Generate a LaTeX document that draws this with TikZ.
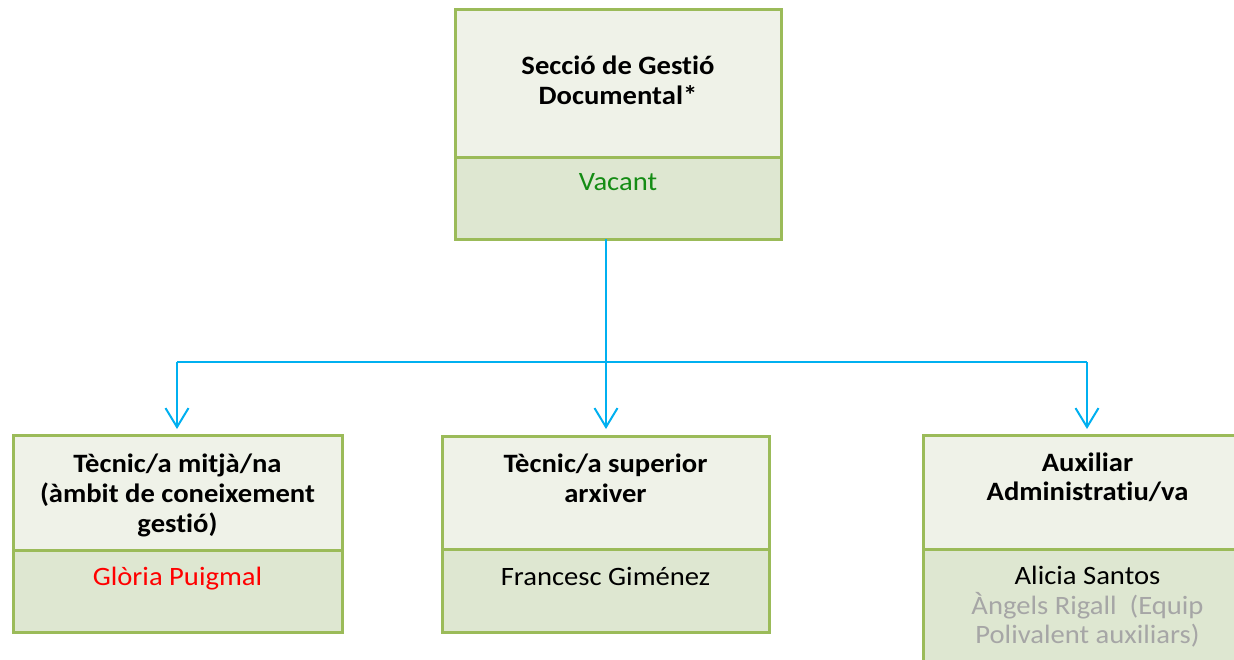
\documentclass[tikz,border=0pt]{standalone}
\usepackage{graphicx}
\usepackage{fontspec}
\setmainfont{Carlito}[RawFeature=-liga]
\usetikzlibrary{arrows.meta}
\definecolor{boxline}{HTML}{9BBB59}
\definecolor{topfill}{HTML}{EFF2E8}
\definecolor{botfill}{HTML}{DEE7D1}
\definecolor{conn}{HTML}{00B0F0}
\definecolor{vacant}{HTML}{148C14}
\definecolor{redname}{HTML}{FF0000}
\definecolor{greyname}{HTML}{A6A6A6}
\newcommand\widetxt[1]{\scalebox{1.08}[1]{#1}}
\tikzset{
  upper/.style={fill=topfill,draw=boxline,line width=3pt},
  lower/.style={fill=botfill,draw=boxline,line width=3pt},
  ttl/.style={font=\fontsize{26.5}{30}\selectfont\bfseries,anchor=base,inner sep=0pt},
  nm/.style={font=\fontsize{26.5}{30}\selectfont,anchor=base,inner sep=0pt},
  link/.style={draw=conn,line width=2pt},
  arr/.style={link,-{Straight Barb[length=19pt,width=23pt,line width=2pt]}},
}
\begin{document}
\begin{tikzpicture}[x=1pt,y=-1pt]
\clip (0,0) rectangle (1234,659);
\fill[white] (0,0) rectangle (1234,659);
% top box
\draw[upper] (455,9) rectangle (781,157);
\draw[lower] (455,157) rectangle (781,239);
\coordinate (topb) at (606,239);
\node[ttl] (t1) at (618,74.5) {\widetxt{Secció de Gestió}};
\node[ttl] (t2) at (618,104) {\widetxt{Documental*}};
\node[nm,text=vacant] (tv) at (618,190) {\widetxt{Vacant}};
% left box
\draw[upper] (13,435) rectangle (342,550);
\draw[lower] (13,550) rectangle (342,632);
\node[ttl] (l1) at (177.5,472) {\widetxt{Tècnic/a mitjà/na}};
\node[ttl] (l2) at (177.5,502) {\widetxt{(àmbit de coneixement}};
\node[ttl] (l3) at (177.5,532) {\widetxt{gestió)}};
\node[nm,text=redname] (ln) at (177.5,585) {\widetxt{Glòria Puigmal}};
% middle box
\draw[upper] (442,436) rectangle (769,549);
\draw[lower] (442,549) rectangle (769,632);
\node[ttl] (m1) at (605.5,472.5) {\widetxt{Tècnic/a superior}};
\node[ttl] (m2) at (605.5,502.5) {\widetxt{arxiver}};
\node[nm] (mn) at (605.5,585) {\widetxt{Francesc Giménez}};
% right box
\draw[upper] (923,435) rectangle (1252,549);
\draw[lower] (923,549) rectangle (1252,680);
\node[ttl] (r1) at (1087.5,471) {\widetxt{Auxiliar}};
\node[ttl] (r2) at (1087.5,500.5) {\widetxt{Administratiu/va}};
\node[nm] (rn1) at (1087.5,584.5) {\widetxt{Alicia Santos}};
\node[nm,text=greyname] (rn2) at (1087.5,614.5) {\widetxt{Àngels Rigall\ \ (Equip}};
\node[nm,text=greyname] (rn3) at (1087.5,643.5) {\widetxt{Polivalent auxiliars)}};
% connectors
\coordinate (hl) at (177,362);
\coordinate (hr) at (1087,362);
\coordinate (lt) at (177,429);
\coordinate (mt) at (606,429);
\coordinate (rt) at (1087,429);
\draw[link] (hl) -- (hr);
\draw[arr] (topb) -- (mt);
\draw[arr] (hl) -- (lt);
\draw[arr] (hr) -- (rt);
\end{tikzpicture}
\end{document}
